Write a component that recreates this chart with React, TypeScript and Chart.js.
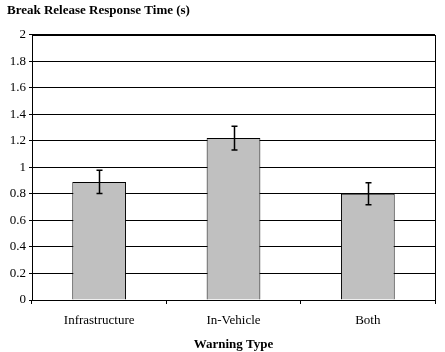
import React, { useEffect, useRef } from "react";
import { Chart, registerables } from "chart.js";

Chart.register(...registerables);

const categories = ["Infrastructure", "In-Vehicle", "Both"];
const meanValues = [0.89, 1.22, 0.80];
const errorValues = [0.087, 0.09, 0.083];
const yTicks = [0, 0.2, 0.4, 0.6, 0.8, 1, 1.2, 1.4, 1.6, 1.8, 2];

const FONT = "'Liberation Serif', 'Times New Roman', serif";

const errorBarPlugin = {
  id: "errorBars",
  afterDatasetsDraw(chart: any) {
    const ctx = chart.ctx;
    const meta = chart.getDatasetMeta(0);
    const yScale = chart.scales.y;
    ctx.save();
    ctx.strokeStyle = "#000";
    ctx.lineWidth = 1.5;
    meta.data.forEach((bar: any, i: number) => {
      const x = Math.round(bar.x) + 0.5;
      const top = yScale.getPixelForValue(meanValues[i] + errorValues[i]);
      const bot = yScale.getPixelForValue(meanValues[i] - errorValues[i]);
      ctx.beginPath();
      ctx.moveTo(x, top);
      ctx.lineTo(x, bot);
      ctx.moveTo(x - 3, top);
      ctx.lineTo(x + 3, top);
      ctx.moveTo(x - 3, bot);
      ctx.lineTo(x + 3, bot);
      ctx.stroke();
    });
    ctx.restore();
  },
};

const frameBorderPlugin = {
  id: "frameBorder",
  afterDraw(chart: any) {
    const { left, right, top, bottom } = chart.chartArea;
    const ctx = chart.ctx;
    ctx.save();
    ctx.strokeStyle = "#000";
    ctx.lineWidth = 1;
    ctx.strokeRect(Math.round(left) + 0.5, Math.round(top) + 0.5, Math.round(right - left), Math.round(bottom - top));
    ctx.restore();
  },
};

export default function App() {
  const ref = useRef<HTMLCanvasElement>(null);
  useEffect(() => {
    document.body.style.margin = "0";
    const chart = new Chart(ref.current!, {
      type: "bar",
      data: {
        labels: categories,
        datasets: [
          {
            data: meanValues,
            backgroundColor: "#c0c0c0",
            borderColor: "#000",
            borderWidth: 1,
            categoryPercentage: 1,
            barPercentage: 0.4,
          },
        ],
      },
      options: {
        animation: false,
        responsive: false,
        maintainAspectRatio: false,
        layout: { padding: { left: 7, right: 10, top: 0, bottom: 0 } },
        plugins: {
          legend: { display: false },
          tooltip: { enabled: false },
          title: {
            display: true,
            text: "Break Release Response Time (s)",
            align: "start",
            color: "#000",
            font: { family: FONT, size: 13, weight: "bold" },
            padding: { top: 3, bottom: 16 },
          },
        },
        scales: {
          x: {
            offset: true,
            grid: {
              display: true,
              offset: true,
              drawOnChartArea: false,
              drawTicks: true,
              tickLength: 4,
              color: "#000",
            },
            border: { display: true, color: "#000" },
            ticks: {
              color: "#000",
              font: { family: FONT, size: 13 },
              padding: 9,
              maxRotation: 0,
            },
            title: {
              display: true,
              text: "Warning Type",
              color: "#000",
              font: { family: FONT, size: 13, weight: "bold" },
              padding: { top: 8, bottom: 0 },
            },
            afterFit(scale: any) {
              scale.height = 52;
            },
          },
          y: {
            min: 0,
            max: 2,
            afterBuildTicks(scale: any) {
              scale.ticks = yTicks.map((v) => ({ value: v }));
            },
            grid: {
              color: "#000",
              tickLength: 3,
            },
            border: { display: true, color: "#000" },
            ticks: {
              color: "#000",
              font: { family: FONT, size: 13 },
              padding: 3,
              callback: (v: any) => String(v),
            },
            afterFit(scale: any) {
              scale.width = 25;
            },
          },
        },
      },
      plugins: [errorBarPlugin, frameBorderPlugin],
    });
    return () => chart.destroy();
  }, []);
  return (
    <div style={{ width: 445, height: 352, background: "#fff" }}>
      <canvas ref={ref} width={445} height={352} style={{ width: 445, height: 352 }} />
    </div>
  );
}
